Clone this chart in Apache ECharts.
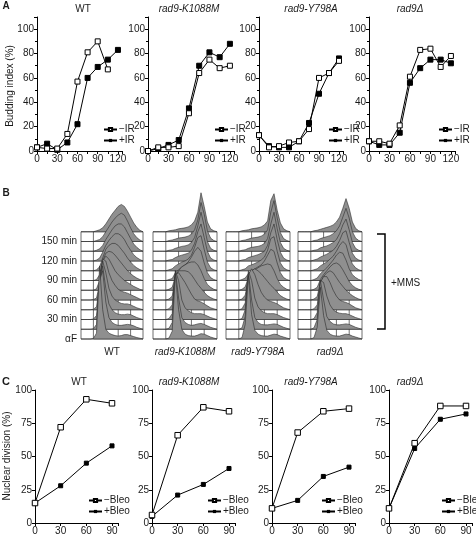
<!DOCTYPE html>
<html><head><meta charset="utf-8">
<script src="https://cdn.jsdelivr.net/npm/echarts@6/dist/echarts.min.js"></script>
<style>html,body{margin:0;padding:0;background:#fff}#c{width:476px;height:551px}</style>
</head><body><div id="c"></div><script>
// ---------- DATA ----------
const strains = ['WT', 'rad9-K1088M', 'rad9-Y798A', 'rad9Δ'];

// Panel A: budding index (%)
const timeA = [0, 15, 30, 45, 60, 75, 90, 105, 120];
const wtMinusIR  = [3, 2, 2, 14, 57, 81, 90, 67, null];
const wtPlusIR   = [3, 6, 1, 7, 22, 60, 69, 75, 83];
const k1088MinusIR = [0, 3, 3, 4, 31, 64, 75, 68, 70];
const k1088PlusIR  = [0, 2, 5, 9, 35, 70, 81, 77, 88];
const y798MinusIR  = [13, 3, 4, 7, 8, 18, 60, 64, 74];
const y798PlusIR   = [13, 4, 3, 3, 8, 23, 47, 64, 76];
const delMinusIR   = [8, 8, 6, 21, 61, 83, 84, 69, 78];
const delPlusIR    = [8, 5, 5, 15, 56, 68, 75, 75, 72];

// Panel C: nuclear division (%)
const timeC = [0, 30, 60, 90];
const wtMinusBleo = [15, 72, 93, 90];
const wtPlusBleo  = [15, 28, 45, 58];
const k1088MinusBleo = [6, 66, 87, 84];
const k1088PlusBleo  = [5, 21, 29, 41];
const y798MinusBleo  = [11, 68, 84, 86];
const y798PlusBleo   = [11, 17, 35, 42];
const delMinusBleo   = [11, 60, 88, 88];
const delPlusBleo    = [11, 56, 78, 82];

// Panel B: FACS histograms (DNA content bins 0..1), rows bottom (αF) to top, height in row units
const dnaBins = [0,0.05,0.1,0.15,0.2,0.25,0.3,0.35,0.4,0.45,0.5,0.55,0.6,0.65,0.7,0.75,0.8,0.85,0.9,0.95,1];
const rowLabels = ['αF','','30 min','','60 min','','90 min','','120 min','','150 min',''];
const histWT = [
 [0,0,0,0,0.05,0.6,7.5,3.0,1.0,0.6,0.45,0.35,0.3,0.35,0.45,0.45,0.35,0.25,0.15,0.08,0],
 [0,0,0,0,0.05,0.5,5.0,6.0,2.8,1.2,0.7,0.5,0.4,0.4,0.45,0.5,0.45,0.35,0.2,0.1,0],
 [0,0,0,0,0.05,0.4,3.5,5.5,3.2,1.6,1.0,0.7,0.55,0.5,0.5,0.55,0.5,0.35,0.2,0.1,0],
 [0,0,0,0,0.05,0.3,2.5,5.0,3.8,2.2,1.4,1.0,0.8,0.65,0.6,0.6,0.5,0.35,0.2,0.1,0],
 [0,0,0,0,0.05,0.2,1.6,4.2,4.0,2.8,2.0,1.5,1.1,0.9,0.8,0.7,0.55,0.4,0.25,0.1,0],
 [0,0,0,0,0,0.15,1.0,3.0,3.5,3.2,2.6,2.0,1.6,1.3,1.0,0.8,0.6,0.4,0.25,0.1,0],
 [0,0,0,0,0,0.1,0.6,2.0,2.8,3.0,2.9,2.6,2.2,1.8,1.4,1.0,0.7,0.45,0.25,0.1,0],
 [0,0,0,0,0,0.1,0.4,1.3,2.2,2.6,2.8,2.8,2.6,2.2,1.8,1.3,0.9,0.55,0.3,0.12,0],
 [0,0,0,0,0,0.1,0.3,0.9,1.6,2.1,2.5,2.8,2.8,2.6,2.2,1.6,1.1,0.65,0.35,0.15,0],
 [0,0,0,0,0,0.1,0.25,0.6,1.2,1.7,2.2,2.6,2.8,2.8,2.5,1.9,1.3,0.75,0.4,0.15,0],
 [0,0,0,0,0,0.1,0.2,0.5,1.0,1.5,2.0,2.4,2.7,2.9,2.7,2.1,1.4,0.8,0.4,0.15,0],
 [0,0,0,0,0,0.1,0.2,0.4,0.8,1.3,1.8,2.2,2.6,2.8,2.6,2.1,1.5,0.9,0.45,0.15,0]
];
const histK = [
 [0,0,0,0,0,0.1,0.8,6.7,3.0,1.0,0.5,0.35,0.3,0.3,0.4,0.55,0.5,0.35,0.2,0.1,0],
 [0,0,0,0,0,0.1,0.7,6.0,3.2,1.2,0.7,0.5,0.4,0.45,0.55,0.6,0.5,0.35,0.2,0.1,0],
 [0,0,0,0,0,0.1,0.6,5.0,4.0,2.0,1.2,0.9,0.7,0.6,0.6,0.6,0.5,0.35,0.2,0.1,0],
 [0,0,0,0,0,0.1,0.5,3.6,3.8,3.3,2.8,2.2,1.6,1.1,0.9,0.8,0.6,0.4,0.2,0.1,0],
 [0,0,0,0,0,0.1,0.4,2.4,3.0,3.0,3.0,2.9,2.6,2.1,1.6,1.2,0.8,0.45,0.25,0.1,0],
 [0,0,0,0,0,0.1,0.3,1.4,2.0,2.4,2.6,2.8,2.9,2.9,2.6,2.0,1.2,0.6,0.3,0.1,0],
 [0,0,0,0,0,0.1,0.2,0.8,1.1,1.4,1.6,1.9,2.4,3.0,3.4,3.0,1.8,0.8,0.3,0.1,0],
 [0,0,0,0,0,0.1,0.2,0.5,0.7,0.9,1.0,1.2,1.6,2.4,3.4,3.6,2.2,0.9,0.3,0.1,0],
 [0,0,0,0,0,0.1,0.15,0.35,0.5,0.6,0.7,0.8,1.1,1.8,3.0,3.8,2.4,1.0,0.3,0.1,0],
 [0,0,0,0,0,0.1,0.15,0.3,0.4,0.5,0.55,0.65,0.9,1.4,2.6,4.0,2.6,1.0,0.3,0.1,0],
 [0,0,0,0,0,0.1,0.15,0.25,0.35,0.4,0.45,0.55,0.75,1.2,2.2,4.0,2.8,1.1,0.35,0.1,0],
 [0,0,0,0,0,0.1,0.15,0.2,0.3,0.35,0.4,0.5,0.7,1.1,2.0,4.0,2.6,1.0,0.3,0.1,0]
];
const histY = [
 [0,0,0,0,0,0.15,1.5,6.5,2.5,0.9,0.5,0.35,0.3,0.3,0.4,0.5,0.45,0.3,0.2,0.1,0],
 [0,0,0,0,0,0.15,1.3,5.8,3.0,1.2,0.7,0.5,0.45,0.45,0.5,0.55,0.5,0.35,0.2,0.1,0],
 [0,0,0,0,0,0.1,1.0,5.0,4.0,2.2,1.3,0.9,0.7,0.6,0.6,0.6,0.5,0.35,0.2,0.1,0],
 [0,0,0,0,0,0.1,0.7,3.6,4.2,3.6,2.6,1.8,1.3,1.0,0.85,0.75,0.6,0.4,0.2,0.1,0],
 [0,0,0,0,0,0.1,0.5,2.2,3.0,3.2,3.0,2.7,2.3,1.9,1.5,1.2,0.8,0.45,0.25,0.1,0],
 [0,0,0,0,0,0.1,0.35,1.3,1.8,2.1,2.3,2.5,2.6,2.7,2.6,2.0,1.2,0.6,0.3,0.1,0],
 [0,0,0,0,0,0.1,0.25,0.7,1.0,1.2,1.4,1.6,2.0,2.6,3.2,3.0,1.8,0.8,0.3,0.1,0],
 [0,0,0,0,0,0.1,0.2,0.5,0.6,0.75,0.9,1.1,1.4,2.1,3.3,3.5,2.0,0.8,0.3,0.1,0],
 [0,0,0,0,0,0.1,0.15,0.35,0.45,0.55,0.65,0.8,1.0,1.6,2.9,3.8,2.2,0.9,0.3,0.1,0],
 [0,0,0,0,0,0.1,0.15,0.3,0.4,0.45,0.5,0.6,0.8,1.3,2.8,4.0,2.3,0.9,0.3,0.1,0],
 [0,0,0,0,0,0.1,0.15,0.25,0.35,0.4,0.45,0.55,0.75,1.2,3.0,4.2,2.4,0.9,0.3,0.1,0],
 [0,0,0,0,0,0.1,0.15,0.2,0.3,0.35,0.4,0.5,0.7,1.1,3.2,3.9,2.2,0.9,0.3,0.1,0]
];
const histD = [
 [0,0,0,0,0,0.15,1.2,5.3,2.4,0.9,0.5,0.35,0.3,0.3,0.4,0.5,0.45,0.3,0.2,0.1,0],
 [0,0,0,0,0,0.15,1.0,5.0,3.0,1.3,0.8,0.55,0.45,0.45,0.5,0.55,0.5,0.35,0.2,0.1,0],
 [0,0,0,0,0,0.1,0.7,4.0,3.8,2.4,1.5,1.0,0.75,0.65,0.6,0.6,0.5,0.35,0.2,0.1,0],
 [0,0,0,0,0,0.1,0.5,2.8,3.4,3.4,2.8,2.0,1.4,1.0,0.85,0.75,0.6,0.4,0.2,0.1,0],
 [0,0,0,0,0,0.1,0.35,1.8,2.4,2.8,3.0,2.8,2.3,1.8,1.4,1.0,0.7,0.45,0.25,0.1,0],
 [0,0,0,0,0,0.1,0.3,1.1,1.6,2.0,2.4,2.7,2.8,2.6,2.1,1.5,0.9,0.5,0.25,0.1,0],
 [0,0,0,0,0,0.1,0.25,0.7,1.0,1.3,1.7,2.1,2.6,2.9,2.8,2.1,1.2,0.6,0.3,0.1,0],
 [0,0,0,0,0,0.1,0.2,0.5,0.7,0.9,1.2,1.5,2.0,2.6,3.0,2.7,1.5,0.7,0.3,0.1,0],
 [0,0,0,0,0,0.1,0.2,0.4,0.55,0.7,0.9,1.1,1.5,2.1,2.9,3.1,1.9,0.8,0.3,0.1,0],
 [0,0,0,0,0,0.1,0.15,0.35,0.45,0.55,0.7,0.9,1.2,1.8,2.7,3.3,2.2,0.9,0.3,0.1,0],
 [0,0,0,0,0,0.1,0.15,0.3,0.4,0.5,0.6,0.8,1.1,1.6,2.5,3.4,2.4,1.0,0.35,0.1,0],
 [0,0,0,0,0,0.1,0.15,0.25,0.35,0.45,0.55,0.7,1.0,1.5,2.4,3.4,2.4,1.0,0.35,0.1,0]
];

// ---------- BUILD ----------
const FONT = "'Liberation Sans', Arial, Helvetica, sans-serif";
const TXT = '#1a1a1a';
const panelA = [[wtMinusIR, wtPlusIR], [k1088MinusIR, k1088PlusIR], [y798MinusIR, y798PlusIR], [delMinusIR, delPlusIR]];
const panelC = [[wtMinusBleo, wtPlusBleo], [k1088MinusBleo, k1088PlusBleo], [y798MinusBleo, y798PlusBleo], [delMinusBleo, delPlusBleo]];
const hists = [histWT, histK, histY, histD];
const zip = (xs, ys) => xs.map((x, i) => [x, ys[i]]);

const gridsA = [{left:37,w:85},{left:148,w:86},{left:259,w:84},{left:369,w:86}];
const gridsB = [{left:81,w:62},{left:153,w:64},{left:226,w:64},{left:298,w:64}];
const gridsC = [{left:35,w:83},{left:152,w:83},{left:272,w:83},{left:389,w:83}];
const titleXA = [83,189,311,410];
const titleXC = [79,189,311,410];
const legA = [98,209,323,433];
const legC = [83,202,316,436];

const grid = [], xAxis = [], yAxis = [], series = [], legend = [];
const baseAxis = {
  axisLine:{lineStyle:{color:'#000',width:1}},
  axisTick:{length:3,lineStyle:{color:'#000'}},
  axisLabel:{fontSize:10,color:TXT,fontFamily:FONT,margin:3},
  splitLine:{show:false}
};
const legendBase = {orient:'vertical', itemGap:0, itemWidth:13, itemHeight:4,
  textStyle:{fontSize:10, color:TXT, fontFamily:FONT, lineHeight:11, padding:[0,0,0,-3]}, selectedMode:false};

// Panel A
gridsA.forEach((g, i) => {
  grid.push({left:g.left, top:17, width:g.w, height:134});
  xAxis.push(Object.assign({}, baseAxis, {type:'value', gridIndex:i, min:0, max:126, interval:30,
    minorTick:{show:true, splitNumber:2, length:3, lineStyle:{color:'#000'}},
    axisLabel:Object.assign({}, baseAxis.axisLabel, {formatter:v => (v % 30 === 0 ? v : '')})}));
  yAxis.push(Object.assign({}, baseAxis, {type:'value', gridIndex:i, min:0, max:110, interval:20,
    minorTick:{show:true, splitNumber:2, length:2, lineStyle:{color:'#000'}},
    axisLabel:Object.assign({}, baseAxis.axisLabel, {formatter:v => (v % 20 === 0 ? v : '')})}));
  const [m, p] = panelA[i];
  series.push({type:'line', name:'−IR', xAxisIndex:i, yAxisIndex:i, data:zip(timeA, m),
    symbol:'rect', symbolSize:5, lineStyle:{color:'#000',width:1},
    itemStyle:{color:'#fff', borderColor:'#000', borderWidth:1}, z:3, animation:false});
  series.push({type:'line', name:'+IR', xAxisIndex:i, yAxisIndex:i, data:zip(timeA, p),
    symbol:'rect', symbolSize:5, lineStyle:{color:'#000',width:1},
    itemStyle:{color:'#000', borderColor:'#000'}, z:2, animation:false});
  legend.push(Object.assign({}, legendBase, {data:['−IR','+IR'], left:legA[i], top:119}));
});

// Panel B
const ROWS = 11;
const boxRender = (params, api) => {
  const ch = [];
  const L = (a, b, stroke, w) => ch.push({type:'line', shape:{x1:a[0],y1:a[1],x2:b[0],y2:b[1]}, style:{stroke, lineWidth:w}});
  for (let r = 0; r <= ROWS; r++) {
    L(api.coord([0, r]), api.coord([0.2, r]), '#c8c8c8', 1);
    L(api.coord([0.2, r]), api.coord([1, r]), '#4a4a4a', 0.8);
  }
  [0, 0.2, 0.4, 0.6, 0.8, 1].forEach(x => L(api.coord([x, 0]), api.coord([x, ROWS]), '#4a4a4a', 0.8));
  return {type:'group', children:ch};
};
const histRender = h => (params, api) => {
  const row = api.value(0);
  const vals = h[row];
  const pts = [api.coord([0, row])];
  dnaBins.forEach((b, k) => pts.push(api.coord([b, row + vals[k]])));
  pts.push(api.coord([1, row]));
  return {type:'polygon', shape:{points:pts}, style:{fill:'#8f8f8f', stroke:'#2b2b2b', lineWidth:0.6}};
};
gridsB.forEach((g, j) => {
  const i = 4 + j;
  grid.push({left:g.left, top:192.75, width:g.w, height:146.25});
  xAxis.push({type:'value', gridIndex:i, min:0, max:1, axisLine:{show:false}, axisTick:{show:false},
    axisLabel:{show:false}, splitLine:{show:false},
    name:strains[j], nameLocation:'middle', nameGap:8,
    nameTextStyle:{fontSize:10, color:TXT, fontFamily:FONT, fontStyle: j === 0 ? 'normal' : 'italic'}});
  yAxis.push({type:'value', gridIndex:i, min:0, max:15, interval:1, axisLine:{show:false}, axisTick:{show:false},
    splitLine:{show:false},
    axisLabel:{show: j === 0, fontSize:10, color:TXT, fontFamily:FONT, margin:4,
      formatter:v => rowLabels[v] || ''}});
  series.push({type:'custom', xAxisIndex:i, yAxisIndex:i, data:[[0]], renderItem:boxRender, silent:true, animation:false, z:1});
  const rowsData = hists[j].map((_, r) => [r]).reverse();
  series.push({type:'custom', xAxisIndex:i, yAxisIndex:i, data:rowsData, renderItem:histRender(hists[j]), silent:true, animation:false, z:2, clip:false});
});

// Panel C
gridsC.forEach((g, j) => {
  const i = 8 + j;
  grid.push({left:g.left, top:390, width:g.w, height:133});
  xAxis.push(Object.assign({}, baseAxis, {type:'value', gridIndex:i, min:0, max:97, interval:30,
    axisLabel:Object.assign({}, baseAxis.axisLabel, {formatter:v => (v % 30 === 0 ? v : '')})}));
  yAxis.push(Object.assign({}, baseAxis, {type:'value', gridIndex:i, min:0, max:100, interval:25}));
  const [m, p] = panelC[j];
  series.push({type:'line', name:'−Bleo', xAxisIndex:i, yAxisIndex:i, data:zip(timeC, m),
    symbol:'rect', symbolSize:5.5, lineStyle:{color:'#000',width:1},
    itemStyle:{color:'#fff', borderColor:'#000', borderWidth:1}, z:3, animation:false});
  series.push({type:'line', name:'+Bleo', xAxisIndex:i, yAxisIndex:i, data:zip(timeC, p),
    symbol:'rect', symbolSize:4, lineStyle:{color:'#000',width:1},
    itemStyle:{color:'#000', borderColor:'#000'}, z:2, animation:false});
  legend.push(Object.assign({}, legendBase, {data:['−Bleo','+Bleo'], left:legC[j], top:490}));
});

// Text annotations
const T = (x, y, text, extra) => Object.assign({type:'text', x, y, silent:true,
  style:Object.assign({text, fill:TXT, font:`10px ${FONT}`, align:'center', verticalAlign:'middle'}, extra || {})});
const graphic = [
  T(6, 6, 'A', {font:`bold 10px ${FONT}`}),
  T(6, 193, 'B', {font:`bold 10px ${FONT}`}),
  T(6, 382, 'C', {font:`bold 11px ${FONT}`}),
  Object.assign(T(10, 86, 'Budding index (%)'), {rotation:Math.PI/2}),
  Object.assign(T(7, 456, 'Nuclear division (%)'), {rotation:Math.PI/2}),
  {type:'polyline', silent:true, shape:{points:[[377,234],[385,234],[385,329],[377,329]]}, style:{stroke:'#000', lineWidth:1.5, fill:null}},
  T(391, 283, '+MMS', {align:'left'})
];
strains.forEach((s, j) => {
  const st = j === 0 ? '' : 'italic ';
  graphic.push(T(titleXA[j], 9, s, {font:`${st}10px ${FONT}`}));
  graphic.push(T(titleXC[j], 382, s, {font:`${st}10px ${FONT}`}));
});

const chart = echarts.init(document.getElementById('c'), null, {renderer:'canvas'});
chart.setOption({animation:false, backgroundColor:'#fff', grid, xAxis, yAxis, series, legend, graphic});
</script></body></html>
